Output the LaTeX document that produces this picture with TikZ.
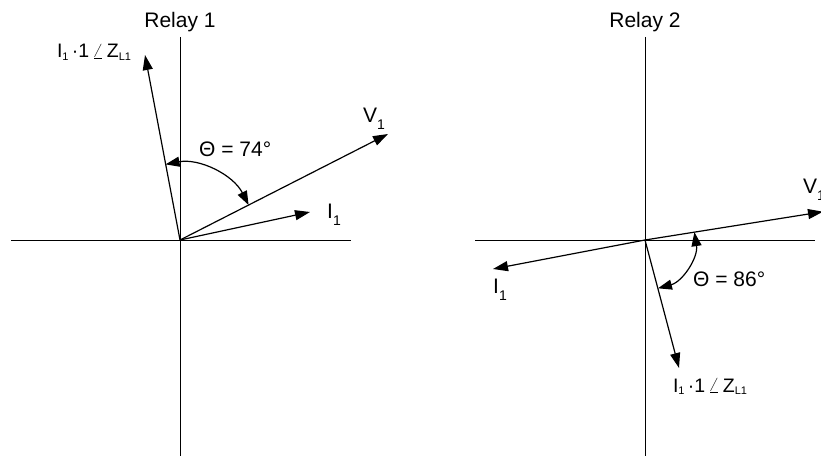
\documentclass[tikz,border=0pt]{standalone}
\usepackage{fontspec}
\setmainfont{Liberation Sans}
\usetikzlibrary{arrows.meta}
\newcommand{\lsub}[1]{\raisebox{-7pt}{\fontsize{14}{14}\selectfont #1}}
\newcommand{\ssub}[1]{\raisebox{-2.5pt}{\fontsize{11}{11}\selectfont #1}}
\begin{document}
\begin{tikzpicture}[x=1pt,y=1pt,
  axis/.style={line width=1pt},
  vec/.style={line width=1.2pt,-{Triangle[length=15pt,width=10pt]}},
  ang/.style={line width=1.2pt,{Triangle[length=14pt,width=10pt]}-{Triangle[length=14pt,width=10pt]}},
  lbl/.style={inner sep=0pt,font=\fontsize{21}{25}\selectfont},
  slbl/.style={inner sep=0pt,font=\fontsize{19.5}{23}\selectfont}]
\useasboundingbox (0,0) rectangle (821,456);
\clip (0,0) rectangle (821,456);
% ---- Relay 1
\coordinate (O1) at (180,216);
\coordinate (A1t) at (180,419);
\coordinate (A1b) at (180,0);
\coordinate (A1l) at (11,216);
\coordinate (A1r) at (351,216);
\coordinate (Z1) at (145,401);
\coordinate (V1) at (388,322);
\coordinate (I1) at (310,244);
\draw[axis] (A1t) -- (A1b);
\draw[axis] (A1l) -- (A1r);
\draw[vec] (O1) -- (Z1);
\draw[vec] (O1) -- (V1);
\draw[vec] (O1) -- (I1);
\draw[ang] ([shift={(27:77)}]O1) arc[start angle=27,end angle=100.8,radius=77];
\node[lbl,anchor=base] (r1) at (180,428) {Relay 1};
\node[slbl,anchor=base] (z1l) at (94,398) {I\ssub{1}\,·1\,$\angle$\,Z\ssub{L1}};
\node[lbl,anchor=base west] (v1l) at (363,334) {V\lsub{1}};
\node[lbl,anchor=base west] (i1l) at (327,238) {I\lsub{1}};
\node[lbl,anchor=base west] (t1l) at (199,300) {Θ = 74°};
% ---- Relay 2
\coordinate (O2) at (645,216);
\coordinate (A2t) at (645,419);
\coordinate (A2b) at (645,0);
\coordinate (A2l) at (475,216);
\coordinate (A2r) at (815,216);
\coordinate (Z2) at (679,88);
\coordinate (V2) at (823,244.3);
\coordinate (I2) at (493,187);
\draw[axis] (A2t) -- (A2b);
\draw[axis] (A2l) -- (A2r);
\draw[vec] (O2) -- (Z2);
\draw[vec] (O2) -- (V2);
\draw[vec] (O2) -- (I2);
\draw[ang] ([shift={(9:50)}]O2) arc[start angle=9,end angle=-75,radius=50];
\node[lbl,anchor=base] (r2) at (645,428) {Relay 2};
\node[slbl,anchor=base] (z2l) at (710,64) {I\ssub{1}\,·1\,$\angle$\,Z\ssub{L1}};
\node[lbl,anchor=base west] (v2l) at (803,263) {V\lsub{1}};
\node[lbl,anchor=base west] (i2l) at (493,163) {I\lsub{1}};
\node[lbl,anchor=base west] (t2l) at (693,170) {Θ = 86°};
\end{tikzpicture}
\end{document}
